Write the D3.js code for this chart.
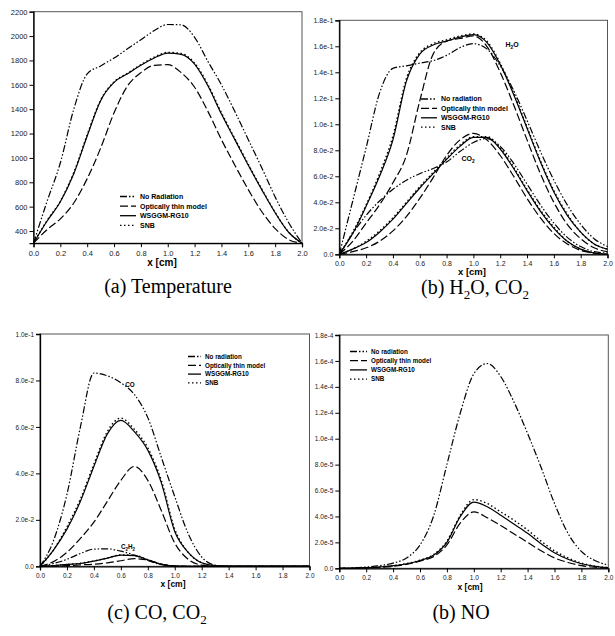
<!DOCTYPE html>
<html>
<head>
<meta charset="utf-8">
<script src="https://cdn.jsdelivr.net/npm/d3@7"></script>
<style>
  body { margin: 0; background: #fff; }
  svg { display: block; }
  .tick text { font-family: Arial, "Liberation Sans", sans-serif; fill: #222; }
</style>
</head>
<body>
<div id="chart"></div>
<script>
// ---- data ----
var xs = [0, 0.1, 0.2, 0.3, 0.4, 0.5, 0.6, 0.7, 0.8, 0.9, 1.0, 1.1, 1.2, 1.3, 1.4, 1.5, 1.6, 1.7, 1.8, 1.9, 2.0];
var xTicks = [0, 0.2, 0.4, 0.6, 0.8, 1.0, 1.2, 1.4, 1.6, 1.8, 2.0];

// (a) temperature
var tNoRad = [300, 640, 960, 1400, 1690, 1755, 1820, 1895, 1970, 2045, 2095, 2092, 1990, 1790, 1600, 1380, 1150, 920, 680, 470, 300];
var tThin  = [300, 410, 500, 630, 830, 1080, 1370, 1590, 1700, 1760, 1765, 1700, 1580, 1380, 1150, 940, 740, 560, 420, 330, 300];
var tWsggm = [300, 480, 640, 870, 1180, 1470, 1620, 1690, 1760, 1820, 1860, 1850, 1770, 1590, 1360, 1150, 940, 740, 550, 390, 300];
var tSnb   = [300, 485, 645, 880, 1190, 1475, 1625, 1695, 1765, 1828, 1866, 1857, 1778, 1600, 1370, 1158, 948, 745, 553, 392, 300];
var tTicks = [400, 600, 800, 1000, 1200, 1400, 1600, 1800, 2000, 2200];

// (b) H2O, CO2
var h2oNoRad = [0, 0.041, 0.082, 0.124, 0.143, 0.145, 0.147, 0.149, 0.153, 0.159, 0.162, 0.158, 0.145, 0.126, 0.103, 0.079, 0.057, 0.038, 0.023, 0.012, 0.006];
var h2oThin  = [0, 0.010, 0.024, 0.038, 0.055, 0.076, 0.118, 0.154, 0.164, 0.166, 0.168, 0.160, 0.140, 0.115, 0.088, 0.062, 0.040, 0.023, 0.012, 0.005, 0.002];
var h2oWsggm = [0, 0.016, 0.037, 0.060, 0.088, 0.133, 0.154, 0.161, 0.164, 0.167, 0.169, 0.163, 0.146, 0.123, 0.097, 0.071, 0.048, 0.030, 0.017, 0.008, 0.004];
var h2oSnb   = [0, 0.017, 0.038, 0.062, 0.091, 0.135, 0.155, 0.162, 0.165, 0.168, 0.1695, 0.164, 0.147, 0.124, 0.098, 0.072, 0.049, 0.031, 0.017, 0.008, 0.004];
var co2NoRad = [0, 0.016, 0.030, 0.041, 0.050, 0.057, 0.062, 0.066, 0.071, 0.079, 0.086, 0.089, 0.083, 0.070, 0.054, 0.038, 0.024, 0.013, 0.006, 0.002, 0.001];
var co2Thin  = [0, 0.002, 0.005, 0.010, 0.018, 0.029, 0.043, 0.059, 0.076, 0.088, 0.093, 0.088, 0.076, 0.060, 0.043, 0.028, 0.016, 0.008, 0.003, 0.001, 0];
var co2Wsggm = [0, 0.004, 0.009, 0.017, 0.027, 0.039, 0.051, 0.062, 0.073, 0.083, 0.090, 0.090, 0.081, 0.066, 0.049, 0.033, 0.020, 0.010, 0.004, 0.001, 0];
var co2Snb   = [0, 0.004, 0.010, 0.018, 0.028, 0.040, 0.052, 0.063, 0.074, 0.084, 0.0905, 0.0905, 0.082, 0.067, 0.050, 0.034, 0.021, 0.010, 0.004, 0.001, 0];
var bTicks = [0, 0.02, 0.04, 0.06, 0.08, 0.10, 0.12, 0.14, 0.16, 0.18];

// (c) CO, C2H2
var coNoRad = [0, 0.011, 0.031, 0.060, 0.0832, 0.082, 0.079, 0.074, 0.064, 0.047, 0.030, 0.014, 0.004, 0.0005, 0, 0, 0, 0, 0, 0, 0];
var coThin  = [0, 0.002, 0.006, 0.012, 0.019, 0.028, 0.037, 0.043, 0.037, 0.024, 0.010, 0.003, 0.0005, 0, 0, 0, 0, 0, 0, 0, 0];
var coWsggm = [0, 0.007, 0.016, 0.028, 0.043, 0.057, 0.0628, 0.058, 0.050, 0.036, 0.015, 0.006, 0.0015, 0.0003, 0, 0, 0, 0, 0, 0, 0];
var coSnb   = [0, 0.007, 0.017, 0.029, 0.044, 0.058, 0.0638, 0.059, 0.051, 0.037, 0.016, 0.006, 0.0015, 0.0003, 0, 0, 0, 0, 0, 0, 0];
var c2h2NoRad = [0, 0.0012, 0.0030, 0.0055, 0.0074, 0.0075, 0.0065, 0.0048, 0.0025, 0.0007, 0.0001, 0, 0, 0, 0, 0, 0, 0, 0, 0, 0];
var c2h2Thin  = [0, 0.0001, 0.0003, 0.0006, 0.0009, 0.0015, 0.0024, 0.0033, 0.0027, 0.0010, 0.0002, 0, 0, 0, 0, 0, 0, 0, 0, 0, 0];
var c2h2Wsggm = [0, 0.0003, 0.0008, 0.0012, 0.0022, 0.0035, 0.0048, 0.0046, 0.0028, 0.0008, 0.0001, 0, 0, 0, 0, 0, 0, 0, 0, 0, 0];
var c2h2Snb   = [0, 0.0003, 0.0008, 0.0013, 0.0023, 0.0036, 0.0049, 0.0047, 0.0029, 0.0009, 0.0001, 0, 0, 0, 0, 0, 0, 0, 0, 0, 0];
var cTicks = [0, 0.02, 0.04, 0.06, 0.08, 0.10];

// (d) NO
var noNoRad = [0, 0.02e-5, 0.1e-5, 0.2e-5, 0.4e-5, 0.8e-5, 1.8e-5, 4.0e-5, 8.0e-5, 12.0e-5, 15.0e-5, 15.8e-5, 14.8e-5, 12.8e-5, 10.4e-5, 7.8e-5, 5.0e-5, 2.7e-5, 1.3e-5, 0.6e-5, 0.25e-5];
var noThin  = [0, 0.01e-5, 0.04e-5, 0.08e-5, 0.15e-5, 0.3e-5, 0.55e-5, 0.9e-5, 1.8e-5, 3.5e-5, 4.35e-5, 3.9e-5, 3.3e-5, 2.65e-5, 2.0e-5, 1.35e-5, 0.8e-5, 0.45e-5, 0.2e-5, 0.08e-5, 0.02e-5];
var noWsggm = [0, 0.01e-5, 0.05e-5, 0.1e-5, 0.2e-5, 0.35e-5, 0.6e-5, 1.0e-5, 2.0e-5, 4.0e-5, 5.1e-5, 4.75e-5, 4.1e-5, 3.4e-5, 2.7e-5, 1.9e-5, 1.2e-5, 0.7e-5, 0.35e-5, 0.15e-5, 0.05e-5];
var noSnb   = [0, 0.01e-5, 0.05e-5, 0.1e-5, 0.2e-5, 0.36e-5, 0.62e-5, 1.05e-5, 2.1e-5, 4.1e-5, 5.3e-5, 5.0e-5, 4.35e-5, 3.7e-5, 2.95e-5, 2.1e-5, 1.35e-5, 0.8e-5, 0.4e-5, 0.17e-5, 0.05e-5];
var dTicks = [0, 2e-5, 4e-5, 6e-5, 8e-5, 10e-5, 12e-5, 14e-5, 16e-5, 18e-5];

var legendA = ["No Radiation", "Optically thin model", "WSGGM-RG10", "SNB"];
var legendB = ["No radiation", "Optically thin model", "WSGGM-RG10", "SNB"];

// ---- styles ----
var styles = {
    noRad: "7,2,1.5,2,1.5,2",
    thin:  "8,3",
    wsggm: null,
    snb:   "1.5,2.5"
};
var legendStyles = [styles.noRad, styles.thin, styles.wsggm, styles.snb];

var W = 615, H = 636;
var svg = d3.select("#chart").append("svg")
    .attr("width", W)
    .attr("height", H);

function sciFormat(d) {
    if (d === 0) return "0.0";
    return d3.format(".1e")(d);
}

function drawPanel(p) {
    var x = d3.scaleLinear().domain([0, 2]).range([p.left, p.right]);
    var y = d3.scaleLinear().domain(p.yDomain).range([p.bottom, p.top]);
    var g = svg.append("g");

    // frame
    g.append("rect")
        .attr("x", p.left).attr("y", p.top)
        .attr("width", p.right - p.left).attr("height", p.bottom - p.top)
        .attr("fill", "none").attr("stroke", "#555").attr("stroke-width", 1);

    var line = d3.line()
        .x(function (d) { return x(d[0]); })
        .y(function (d) { return y(d[1]); })
        .curve(d3.curveMonotoneX);

    p.series.forEach(function (s) {
        var pts = xs.map(function (v, i) { return [v, s.values[i]]; });
        g.append("path")
            .attr("d", line(pts))
            .attr("fill", "none")
            .attr("stroke", "#000")
            .attr("stroke-width", s.dash === styles.snb ? 1.4 : 1.2)
            .attr("stroke-dasharray", s.dash);
    });

    var xAxis = g.append("g")
        .attr("transform", "translate(0," + p.bottom + ")")
        .call(d3.axisBottom(x).tickValues(xTicks).tickFormat(d3.format(".1f")).tickSize(4).tickPadding(3));
    var yAxis = g.append("g")
        .attr("transform", "translate(" + p.left + ",0)")
        .call(d3.axisLeft(y).tickValues(p.yTicks).tickFormat(p.yFormat).tickSize(4).tickPadding(2));
    [xAxis, yAxis].forEach(function (a) {
        a.selectAll("text").style("font-size", p.tickFont + "px");
        a.select(".domain").attr("stroke", "#000").attr("stroke-width", 1.3);
    });

    // axis title
    g.append("text")
        .attr("x", p.titleX).attr("y", p.titleY)
        .attr("text-anchor", "middle")
        .style("font-family", "Arial, 'Liberation Sans', sans-serif")
        .style("font-weight", "bold")
        .style("font-size", p.titleFont + "px")
        .text("x [cm]");

    // legend
    p.legendLabels.forEach(function (lab, i) {
        var ly = p.legY + i * p.legStep;
        g.append("line")
            .attr("x1", p.legX).attr("x2", p.legX + p.legLen)
            .attr("y1", ly).attr("y2", ly)
            .attr("stroke", "#000").attr("stroke-width", 1.3)
            .attr("stroke-dasharray", legendStyles[i]);
        g.append("text")
            .attr("x", p.legX + p.legLen + 4).attr("y", ly + p.legFont * 0.35)
            .style("font-family", "Arial, 'Liberation Sans', sans-serif")
            .style("font-weight", "bold")
            .style("font-size", p.legFont + "px")
            .text(lab);
    });

    // species labels
    (p.labels || []).forEach(function (l) {
        var t = g.append("text")
            .attr("x", l.x).attr("y", l.y)
            .attr("text-anchor", "middle")
            .style("font-family", "Arial, 'Liberation Sans', sans-serif")
            .style("font-weight", "bold")
            .style("font-size", p.legFont + "px");
        l.parts.forEach(function (part) {
            t.append("tspan")
                .attr("dy", part.sub ? 2 : (part.after ? -2 : 0))
                .style("font-size", part.sub ? (p.legFont * 0.7) + "px" : null)
                .text(part.t);
        });
    });

    // caption
    var cap = svg.append("text")
        .attr("x", p.capX).attr("y", p.capY)
        .attr("text-anchor", "middle")
        .style("font-family", "'Liberation Serif', 'Times New Roman', serif")
        .style("font-size", "20px");
    p.caption.forEach(function (part) {
        cap.append("tspan")
            .attr("dy", part.sub ? 5 : (part.after ? -5 : 0))
            .style("font-size", part.sub ? "13px" : null)
            .text(part.t);
    });
}

drawPanel({
    left: 33.5, right: 302, top: 11.7, bottom: 243.2,
    yDomain: [300, 2200], yTicks: tTicks, yFormat: d3.format("d"),
    tickFont: 7.5, titleFont: 10, titleX: 162, titleY: 266,
    series: [
        { values: tNoRad, dash: styles.noRad },
        { values: tThin, dash: styles.thin },
        { values: tWsggm, dash: styles.wsggm },
        { values: tSnb, dash: styles.snb }
    ],
    legendLabels: legendA, legX: 120, legY: 196.5, legStep: 9.6, legLen: 16, legFont: 7,
    caption: [{ t: "(a) Temperature" }], capX: 168, capY: 293
});

drawPanel({
    left: 339.3, right: 607.5, top: 20.3, bottom: 254.3,
    yDomain: [0, 0.18], yTicks: bTicks, yFormat: sciFormat,
    tickFont: 7, titleFont: 9.5, titleX: 472, titleY: 275,
    series: [
        { values: h2oNoRad, dash: styles.noRad },
        { values: h2oThin, dash: styles.thin },
        { values: h2oWsggm, dash: styles.wsggm },
        { values: h2oSnb, dash: styles.snb },
        { values: co2NoRad, dash: styles.noRad },
        { values: co2Thin, dash: styles.thin },
        { values: co2Wsggm, dash: styles.wsggm },
        { values: co2Snb, dash: styles.snb }
    ],
    legendLabels: legendB, legX: 421, legY: 99, legStep: 9.4, legLen: 16, legFont: 7,
    labels: [
        { x: 512, y: 47, parts: [{ t: "H" }, { t: "2", sub: true }, { t: "O", after: true }] },
        { x: 468, y: 161, parts: [{ t: "CO" }, { t: "2", sub: true }] }
    ],
    caption: [{ t: "(b) H" }, { t: "2", sub: true }, { t: "O, CO", after: true }, { t: "2", sub: true }],
    capX: 475, capY: 294
});

drawPanel({
    left: 40, right: 309.5, top: 334, bottom: 566.3,
    yDomain: [0, 0.10], yTicks: cTicks, yFormat: sciFormat,
    tickFont: 6.5, titleFont: 8.5, titleX: 173, titleY: 587,
    series: [
        { values: coNoRad, dash: styles.noRad },
        { values: coThin, dash: styles.thin },
        { values: coWsggm, dash: styles.wsggm },
        { values: coSnb, dash: styles.snb },
        { values: c2h2NoRad, dash: styles.noRad },
        { values: c2h2Thin, dash: styles.thin },
        { values: c2h2Wsggm, dash: styles.wsggm },
        { values: c2h2Snb, dash: styles.snb }
    ],
    legendLabels: legendB, legX: 188, legY: 356.5, legStep: 8.8, legLen: 13, legFont: 6.3,
    labels: [
        { x: 130, y: 387, parts: [{ t: "CO" }] },
        { x: 128, y: 549, parts: [{ t: "C" }, { t: "2", sub: true }, { t: "H", after: true }, { t: "2", sub: true }] }
    ],
    caption: [{ t: "(c) CO, CO" }, { t: "2", sub: true }], capX: 157, capY: 619
});

drawPanel({
    left: 339.3, right: 608.3, top: 335, bottom: 568.3,
    yDomain: [0, 1.8e-4], yTicks: dTicks, yFormat: sciFormat,
    tickFont: 6.5, titleFont: 8.5, titleX: 470, titleY: 590,
    series: [
        { values: noNoRad, dash: styles.noRad },
        { values: noThin, dash: styles.thin },
        { values: noWsggm, dash: styles.wsggm },
        { values: noSnb, dash: styles.snb }
    ],
    legendLabels: legendB, legX: 350, legY: 351.5, legStep: 9.2, legLen: 17, legFont: 6.3,
    caption: [{ t: "(b) NO" }], capX: 461, capY: 619
});
</script>
</body>
</html>
